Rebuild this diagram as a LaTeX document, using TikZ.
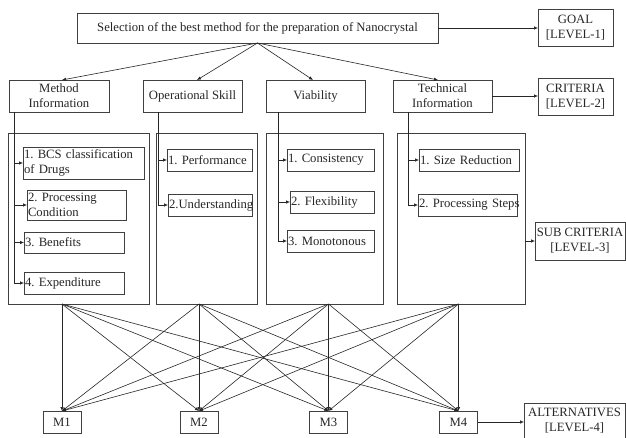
\documentclass[tikz,border=0pt]{standalone}
\usepackage{fontspec}
\setmainfont{Liberation Serif}
\usetikzlibrary{arrows.meta,calc}
\begin{document}
\frenchspacing
\begin{tikzpicture}[x=1pt,y=-1pt,
  every node/.style={inner sep=0pt,outer sep=0pt},
  bx/.style={draw=black!75,line width=0.8pt,align=center,text=black!85,font=\fontsize{12.7}{15}\selectfont},
  subbox/.style={draw=black!75,line width=0.8pt,anchor=west,align=left,inner xsep=1pt,text=black!85,font=\fontsize{12.7}{15.5}\selectfont},
  bigbox/.style={draw=black!75,line width=0.8pt},
  arr/.style={draw=black!85,line width=0.6pt,-{Latex[length=4pt,width=3.4pt]}}]
\useasboundingbox (0,0) rectangle (626,438);
% level 1
\node[bx,minimum width=361pt,minimum height=30pt] (goal) at (257.5,28) {Selection of the best method for the preparation of Nanocrystal};
\node[bx,minimum width=75pt,minimum height=37pt] (L1) at (575.5,27.5) {GOAL\\{}[LEVEL-1]};
% level 2
\node[bx,minimum width=100pt,minimum height=32pt] (c1) at (59,96) {Method\\Information};
\node[bx,minimum width=99pt,minimum height=32pt] (c2) at (192.5,96) {Operational Skill};
\node[bx,minimum width=99pt,minimum height=32pt] (c3) at (315.5,96) {Viability};
\node[bx,minimum width=99pt,minimum height=32pt] (c4) at (442.5,96) {Technical\\Information};
\node[bx,minimum width=75pt,minimum height=37pt] (L2) at (575.5,96.5) {CRITERIA\\{}[LEVEL-2]};
% level 3 big boxes
\node[bigbox,minimum width=141pt,minimum height=171pt] (b1) at (78.5,218.5) {};
\node[bigbox,minimum width=101pt,minimum height=171pt] (b2) at (206.5,218.5) {};
\node[bigbox,minimum width=117pt,minimum height=171pt] (b3) at (324.5,218.5) {};
\node[bigbox,minimum width=128pt,minimum height=171pt] (b4) at (461,218.5) {};
\node[bx,minimum width=90pt,minimum height=38pt] (L3) at (580,241) {SUB CRITERIA\\{}[LEVEL-3]};
% sub criteria
\node[subbox,text width=119pt,minimum height=32pt] (s11) at (23,163) {\mbox{1. BCS classification}\\of Drugs};
\node[subbox,text width=97pt,minimum height=30pt] (s12) at (27,205) {2. Processing\\Condition};
\node[subbox,text width=98pt,minimum height=21pt] (s13) at (24,242.5) {3. Benefits};
\node[subbox,text width=98pt,minimum height=22pt] (s14) at (24,283) {4. Expenditure};
\node[subbox,text width=83pt,minimum height=22pt] (s21) at (167,160) {\mbox{1. Performance}};
\node[subbox,text width=82pt,minimum height=22pt] (s22) at (168,205) {\mbox{2.Understanding}};
\node[subbox,text width=85pt,minimum height=22pt] (s31) at (287,160) {1. Consistency};
\node[subbox,text width=82pt,minimum height=22pt] (s32) at (290,202) {2. Flexibility};
\node[subbox,text width=85pt,minimum height=22pt] (s33) at (287,241) {3. Monotonous};
\node[subbox,text width=98pt,minimum height=22pt] (s41) at (419,160) {\mbox{1. Size Reduction}};
\node[subbox,text width=97pt,minimum height=22pt] (s42) at (418,205) {\mbox{2. Processing Steps}};
% alternatives
\node[bx,minimum width=38pt,minimum height=22pt] (m1) at (62,422) {M1};
\node[bx,minimum width=38pt,minimum height=22pt] (m2) at (199,422) {M2};
\node[bx,minimum width=38pt,minimum height=22pt] (m3) at (328.5,422) {M3};
\node[bx,minimum width=38pt,minimum height=22pt] (m4) at (458.5,422) {M4};
\node[bx,minimum width=101pt,minimum height=35pt] (L4) at (574.5,420.5) {ALTERNATIVES\\{}[LEVEL-4]};
% level arrows
\draw[arr] (goal.east) -- (L1.west |- goal.east);
\draw[arr] (c4.east) -- (L2.west |- c4.east);
\draw[arr] (b4.east |- L3.west) -- (L3.west);
\draw[arr] (m4.east) -- (L4.west |- m4.east);
% goal to criteria
\draw[arr] (goal.south) -- ($(c1.north)+(3,0)$);
\draw[arr] (goal.south) -- ($(c2.north)+(4.5,0)$);
\draw[arr] (goal.south) -- ($(c3.north)+(-2.5,0)$);
\draw[arr] (goal.south) -- ($(c4.north)+(-4.5,0)$);
% trunks
\coordinate (t1) at (14,112);
\coordinate (t2) at (158,112);
\coordinate (t3) at (278,112);
\coordinate (t4) at (408,112);
\draw[arr] (t1) |- (s14.west);
\draw[arr] (t1 |- s11.west) -- (s11.west);
\draw[arr] (t1 |- s12.west) -- (s12.west);
\draw[arr] (t1 |- s13.west) -- (s13.west);
\draw[arr] (t2) |- (s22.west);
\draw[arr] (t2 |- s21.west) -- (s21.west);
\draw[arr] (t3) |- (s33.west);
\draw[arr] (t3 |- s31.west) -- (s31.west);
\draw[arr] (t3 |- s32.west) -- (s32.west);
\draw[arr] (t4) |- (s42.west);
\draw[arr] (t4 |- s41.west) -- (s41.west);
% sources
\coordinate (o1) at (b1.south -| m1.north);
\coordinate (o2) at (b2.south -| m2.north);
\coordinate (o3) at (b3.south -| m3.north);
\coordinate (o4) at (b4.south -| m4.north);
\foreach \i in {1,...,4}{
  \foreach \j in {1,...,4}{
    \draw[arr] (o\i) -- (m\j.north);
  }
}
\end{tikzpicture}
\end{document}
